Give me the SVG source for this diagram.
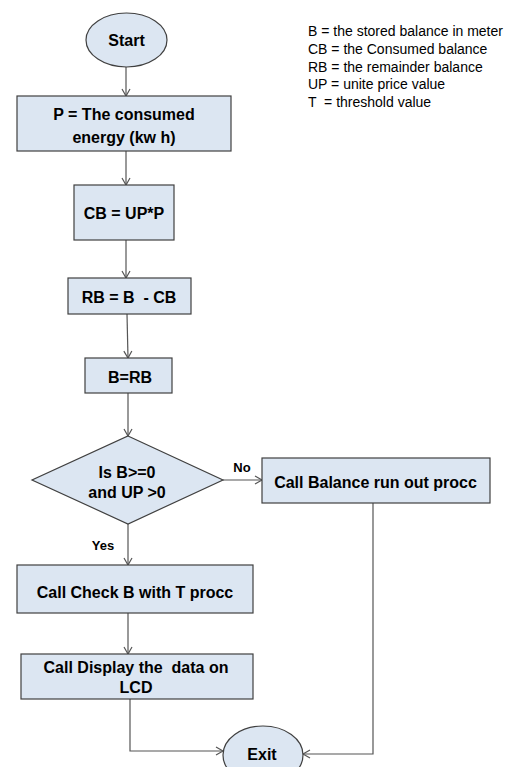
<svg xmlns="http://www.w3.org/2000/svg" width="521" height="767" viewBox="0 0 521 767">
<defs>
<style>
.n{fill:#dce6f2;stroke:#404040;stroke-width:1.2}
.t{font-family:"Liberation Sans",Arial,sans-serif;font-weight:bold;font-size:16px;fill:#000;text-anchor:middle;white-space:pre}
.l{font-family:"Liberation Sans",Arial,sans-serif;font-size:14px;fill:#000;white-space:pre}
.c{fill:none;stroke:#555;stroke-width:1.2}
.lab{font-family:"Liberation Sans",Arial,sans-serif;font-weight:bold;font-size:13px;fill:#000}
</style>
<marker id="a" markerWidth="10" markerHeight="10" refX="8" refY="5" orient="auto" markerUnits="userSpaceOnUse">
<path d="M1,1 L8,5 L1,9" fill="none" stroke="#555" stroke-width="1.2"/>
</marker>
</defs>
<rect width="521" height="767" fill="#fff"/>
<g id="legend">
<text class="l" x="308" y="36">B = the stored balance in meter</text>
<text class="l" x="308" y="54">CB = the Consumed balance</text>
<text class="l" x="308" y="72">RB = the remainder balance</text>
<text class="l" x="308" y="89">UP = unite price value</text>
<text class="l" x="308" y="107">T  = threshold value</text>
</g>
<g id="connectors">
<line class="c" x1="126" y1="67" x2="126" y2="96" marker-end="url(#a)"/>
<line class="c" x1="126" y1="151" x2="126" y2="185" marker-end="url(#a)"/>
<line class="c" x1="126" y1="240" x2="126" y2="278" marker-end="url(#a)"/>
<line class="c" x1="127" y1="314" x2="128" y2="358" marker-end="url(#a)"/>
<line class="c" x1="128" y1="393" x2="128" y2="436" marker-end="url(#a)"/>
<line class="c" x1="128" y1="524" x2="128" y2="565" marker-end="url(#a)"/>
<line class="c" x1="223" y1="480" x2="262" y2="480" marker-end="url(#a)"/>
<line class="c" x1="128" y1="613" x2="128" y2="654" marker-end="url(#a)"/>
<polyline class="c" points="130,699 130,751 223,751" marker-end="url(#a)"/>
<polyline class="c" points="373,503 373,754 303,754" marker-end="url(#a)"/>
<text class="lab" x="103" y="550" text-anchor="middle" font-size="12">Yes</text>
<text class="lab" x="242" y="472" text-anchor="middle">No</text>
</g>
<g id="start">
<ellipse class="n" cx="126.5" cy="40" rx="40.5" ry="27"/>
<text class="t" x="126.5" y="46">Start</text>
</g>
<g id="p">
<rect class="n" x="17" y="96" width="214" height="55"/>
<text class="t" x="124" y="120">P = The consumed</text>
<text class="t" x="124" y="143">energy (kw h)</text>
</g>
<g id="cb">
<rect class="n" x="74" y="185" width="100" height="55"/>
<text class="t" x="124" y="219">CB = UP*P</text>
</g>
<g id="rb">
<rect class="n" x="68" y="278" width="123" height="36"/>
<text class="t" x="129" y="303">RB = B  - CB</text>
</g>
<g id="b">
<rect class="n" x="85" y="358" width="87" height="35"/>
<text class="t" x="130" y="383">B=RB</text>
</g>
<g id="decision">
<polygon class="n" points="128,436 223,480 128,524 32,480"/>
<text class="t" x="127" y="478">Is B&gt;=0</text>
<text class="t" x="127" y="498">and UP &gt;0</text>
</g>
<g id="balance">
<rect class="n" x="262" y="458" width="228" height="45"/>
<text class="t" x="375.5" y="488">Call Balance run out procc</text>
</g>
<g id="check">
<rect class="n" x="17" y="565" width="236" height="48"/>
<text class="t" x="135" y="598">Call Check B with T procc</text>
</g>
<g id="display">
<rect class="n" x="21" y="654" width="232" height="45"/>
<text class="t" x="136" y="673">Call Display the  data on</text>
<text class="t" x="136" y="693">LCD</text>
</g>
<g id="exit">
<ellipse class="n" cx="263" cy="755" rx="40" ry="29"/>
<text class="t" x="262" y="760">Exit</text>
</g>
</svg>
